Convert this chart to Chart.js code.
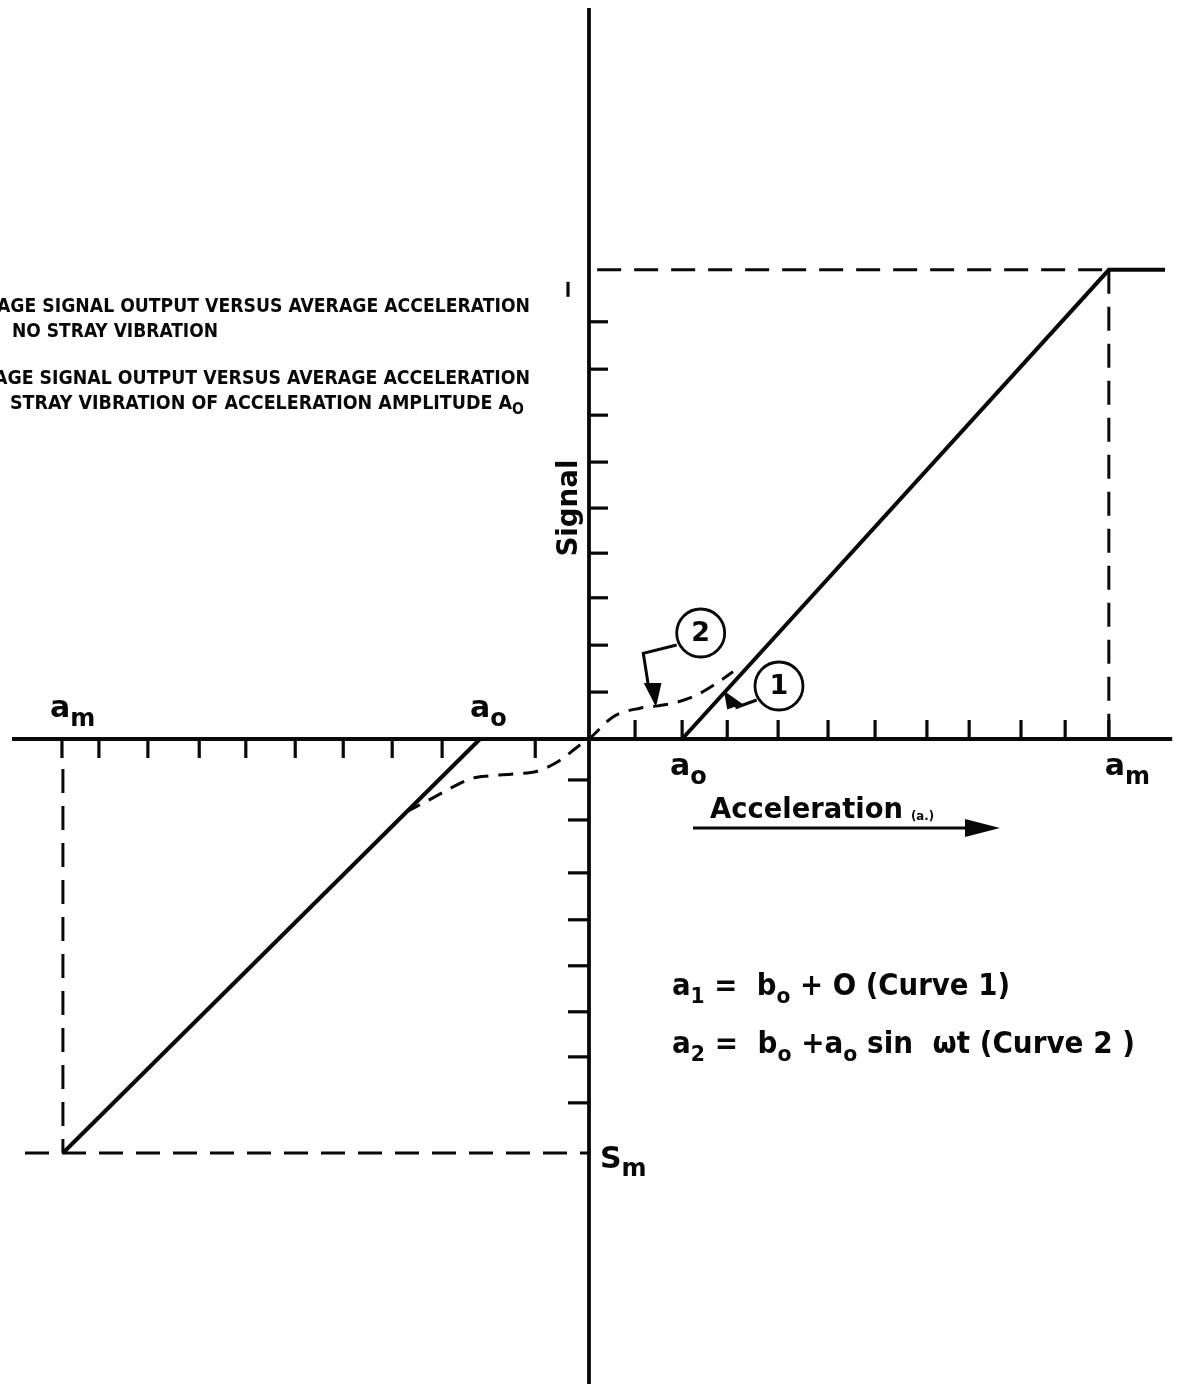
<!DOCTYPE html>
<html>
<head>
<meta charset="utf-8">
<title>Signal versus acceleration</title>
<script src="https://cdn.jsdelivr.net/npm/chart.js@4.4.1/dist/chart.umd.min.js"></script>
<style>
  html, body { margin: 0; padding: 0; background: #fff; }
  canvas { display: block; }
</style>
</head>
<body>
<canvas id="chart" width="1178" height="1384"></canvas>
<script>
// ---- values, in axis tick units (acceleration along x, signal along y) ----
const aoPos = 1.94, aoNeg = -2.27;      // dead band edges a_o
const amPos = 10.83, amNeg = -10.96;    // saturation accelerations a_m
const sMax = 10.2, sMin = -9.0;         // saturated signal levels
const flatEnd = 12.0;                   // end of the saturated plateau

// Curve 1: no stray vibration (dead band, linear, saturation)
const curve1UpperX = [aoPos, amPos, flatEnd];
const curve1UpperY = [0, sMax, sMax];
const curve1LowerX = [aoNeg, amNeg];
const curve1LowerY = [0, sMin];

// Curve 2: with stray vibration of amplitude a_o
const curve2X = [-3.80, -3.25, -2.83, -2.42, -2.06, -1.58, -1.08, -0.60, -0.19, 0.00, 0.50, 1.06, 1.44, 1.83, 2.25, 2.67, 3.00];
const curve2Y = [-1.58, -1.28, -1.04, -0.85, -0.80, -0.76, -0.70, -0.46, -0.13, 0.00, 0.48, 0.67, 0.72, 0.80, 0.96, 1.22, 1.46];

// tick marks along the axes
const xTicksRight = [0.96, 1.94, 2.88, 3.94, 4.98, 5.96, 7.04, 7.92, 9.00, 9.92, 10.83];
const xTicksLeft  = [-1.12, -3.06, -4.10, -5.12, -6.12, -7.15, -8.12, -9.19, -10.21, -10.98];
const yTicksUpper = [1.02, 2.04, 3.07, 4.04, 5.02, 6.02, 7.04, 8.04, 9.07];
const yTicksLower = [-0.89, -1.76, -2.91, -3.93, -4.93, -5.93, -6.91, -7.91];

// axis labels
const xLabelMain  = ['a', 'a', 'a', 'a'];
const xLabelSub   = ['m', 'o', 'o', 'm'];
const xLabelValue = [amNeg, aoNeg, aoPos, amPos];
const yLabelMain = 'S', yLabelSub = 'm';
const xTitle = 'Acceleration', xTitleUnit = '(a.)';
const yTitle = 'Signal';
const curveTags = ['1', '2'];

const legendLines = [
  'AGE SIGNAL OUTPUT VERSUS AVERAGE ACCELERATION',
  'NO STRAY VIBRATION',
  'AGE SIGNAL OUTPUT VERSUS AVERAGE ACCELERATION',
  'STRAY VIBRATION OF ACCELERATION AMPLITUDE A'
];
const legendSub = 'O';

const eq1 = [['a'], ['1', 1], [' =  b'], ['o', 1], [' + O (Curve 1)']];
const eq2 = [['a'], ['2', 1], [' =  b'], ['o', 1], [' +a'], ['o', 1], [' sin  \u03c9t (Curve 2 )']];

// ---- drawing ----
const INK = '#080808';
const FONT = '"DejaVu Sans", "Liberation Sans", sans-serif';
const CFONT = '"DejaVu Sans Condensed", "Liberation Sans Narrow", "DejaVu Sans", sans-serif';

const pts = (xs, ys) => xs.map((x, i) => ({ x, y: ys[i] }));

function richText(ctx, segs, x, baseline, size, subSize, subDrop, weight, family, targetW) {
  const parts = segs.map(s => {
    const font = `${weight} ${s[1] ? subSize : size}px ${family}`;
    ctx.font = font;
    return { t: s[0], sub: !!s[1], font, w: ctx.measureText(s[0]).width };
  });
  const total = parts.reduce((a, p) => a + p.w, 0);
  const k = targetW ? targetW / total : 1;
  ctx.save();
  ctx.translate(x, baseline);
  ctx.scale(k, 1);
  ctx.textBaseline = 'alphabetic';
  ctx.textAlign = 'left';
  let cx = 0;
  parts.forEach(p => {
    ctx.font = p.font;
    ctx.fillText(p.t, cx, p.sub ? subDrop : 0);
    cx += p.w;
  });
  ctx.restore();
}

function seg(ctx, x1, y1, x2, y2) {
  ctx.beginPath(); ctx.moveTo(x1, y1); ctx.lineTo(x2, y2); ctx.stroke();
}

const paperPlugin = {
  id: 'paper',
  beforeDraw(chart) {
    const { ctx } = chart;
    ctx.save();
    ctx.fillStyle = '#fff';
    ctx.fillRect(0, 0, chart.width, chart.height);
    ctx.restore();
  }
};

const axesPlugin = {
  id: 'crossAxes',
  beforeDatasetsDraw(chart) {
    const { ctx, scales: { x, y } } = chart;
    const X = v => x.getPixelForValue(v), Y = v => y.getPixelForValue(v);
    ctx.save();
    ctx.strokeStyle = INK;
    ctx.lineCap = 'butt';
    ctx.lineWidth = 3.8;
    seg(ctx, X(-12.02), Y(0), X(12.15), Y(0));
    seg(ctx, X(0), Y(15.89), X(0), chart.height);
    ctx.lineWidth = 3.2;
    xTicksRight.forEach(v => seg(ctx, X(v), Y(0), X(v), Y(0) - 19));
    xTicksLeft.forEach(v => seg(ctx, X(v), Y(0), X(v), Y(0) + 19));
    yTicksUpper.forEach(v => seg(ctx, X(0), Y(v), X(0) + 19, Y(v)));
    yTicksLower.forEach(v => seg(ctx, X(0), Y(v), X(0) - 21, Y(v)));
    // short mark beside the upper saturation level
    seg(ctx, X(0) - 21, Y(sMax) + 12, X(0) - 21, Y(sMax) + 27);
    ctx.restore();
  }
};

const notesPlugin = {
  id: 'notes',
  afterDatasetsDraw(chart) {
    const { ctx, scales: { x, y } } = chart;
    const X = v => x.getPixelForValue(v), Y = v => y.getPixelForValue(v);
    ctx.save();
    ctx.fillStyle = INK;
    ctx.strokeStyle = INK;

    // a_m / a_o labels on the acceleration axis
    xLabelValue.forEach((v, i) => {
      const above = v < 0;
      const dx = i === 0 ? -13 : i === 1 ? -10 : i === 2 ? -12 : -4;
      const base = above ? Y(0) - 22 : Y(0) + 36;
      richText(ctx, [[xLabelMain[i]], [xLabelSub[i], 1]], X(v) + dx, base, 30, 24, 9, 'bold', FONT);
    });
    // S_m on the signal axis
    richText(ctx, [[yLabelMain], [yLabelSub, 1]], X(0) + 11, Y(sMin) + 15, 30, 24, 8, 'bold', FONT);

    // acceleration title with arrow
    richText(ctx, [[xTitle]], X(0) + 121, Y(0) + 79, 28, 28, 0, 'bold', FONT, 193);
    richText(ctx, [[xTitleUnit]], X(0) + 322, Y(0) + 81, 13, 13, 0, 'bold', FONT, 23);
    const ay = Y(0) + 89;
    ctx.lineWidth = 3.2;
    seg(ctx, X(0) + 104, ay, X(0) + 380, ay);
    ctx.beginPath();
    ctx.moveTo(X(0) + 411, ay);
    ctx.lineTo(X(0) + 376, ay - 9);
    ctx.lineTo(X(0) + 376, ay + 9);
    ctx.closePath();
    ctx.fill();

    // signal title, vertical
    ctx.save();
    ctx.translate(X(0) - 12, Y(5.02));
    ctx.rotate(-Math.PI / 2);
    ctx.font = `bold 28px ${FONT}`;
    const sw = ctx.measureText(yTitle).width;
    ctx.scale(97 / sw, 1);
    ctx.textAlign = 'center';
    ctx.textBaseline = 'alphabetic';
    ctx.fillText(yTitle, 0, 0);
    ctx.restore();

    // circled curve tags with leaders
    ctx.lineWidth = 2.8;
    const c1 = [X(3.958), Y(1.152)], c2 = [X(2.327), Y(2.304)];
    [c1, c2].forEach((c, i) => {
      ctx.beginPath(); ctx.arc(c[0], c[1], 24, 0, Math.PI * 2); ctx.stroke();
      ctx.font = `bold 27px ${FONT}`;
      ctx.textAlign = 'center'; ctx.textBaseline = 'middle';
      ctx.fillText(curveTags[i], c[0], c[1] + 1);
    });
    // leader to curve 2
    ctx.lineWidth = 3;
    ctx.beginPath();
    ctx.moveTo(X(1.827), Y(2.043));
    ctx.lineTo(X(1.131), Y(1.863));
    ctx.lineTo(X(1.235), Y(1.174));
    ctx.stroke();
    ctx.beginPath();
    ctx.moveTo(X(1.396), Y(0.696));
    ctx.lineTo(X(1.140), Y(1.22));
    ctx.lineTo(X(1.510), Y(1.22));
    ctx.closePath(); ctx.fill();
    // leader to curve 1
    ctx.beginPath();
    ctx.moveTo(X(3.494), Y(0.848));
    ctx.lineTo(X(3.05), Y(0.680));
    ctx.stroke();
    ctx.beginPath();
    ctx.moveTo(X(2.81), Y(1.05));
    ctx.lineTo(X(2.88), Y(0.640));
    ctx.lineTo(X(3.20), Y(0.760));
    ctx.closePath(); ctx.fill();

    // legend text block (left)
    richText(ctx, [[legendLines[0]]], -3, 312, 20, 20, 0, 'bold', CFONT, 533);
    richText(ctx, [[legendLines[1]]], 12, 337, 20, 20, 0, 'bold', CFONT, 206);
    richText(ctx, [[legendLines[2]]], -6, 384, 20, 20, 0, 'bold', CFONT, 536);
    richText(ctx, [[legendLines[3]], [legendSub, 1]], 10, 409, 20, 16, 5, 'bold', CFONT, 514);

    // equations
    richText(ctx, eq1, X(0) + 83, Y(0) + 256, 30, 22, 8, 'bold', FONT, 338);
    richText(ctx, eq2, X(0) + 83, Y(0) + 314, 30, 22, 8, 'bold', FONT, 463);

    ctx.restore();
  }
};

const solid = { borderColor: INK, borderWidth: 4, showLine: true, pointRadius: 0, fill: false };
const guide = { borderColor: INK, borderWidth: 3, showLine: true, pointRadius: 0, fill: false, borderDash: [24, 13] };

new Chart(document.getElementById('chart'), {
  type: 'scatter',
  data: {
    datasets: [
      { ...guide, data: pts([0.17, amPos], [sMax, sMax]) },
      { ...guide, data: pts([amPos, amPos], [sMax, 0]) },
      { ...guide, data: pts([-11.75, 0], [sMin, sMin]) },
      { ...guide, data: pts([amNeg, amNeg], [-0.65, sMin]) },
      { ...solid, data: pts(curve1UpperX, curve1UpperY) },
      { ...solid, data: pts(curve1LowerX, curve1LowerY) },
      { ...solid, borderWidth: 3, borderDash: [15, 10], cubicInterpolationMode: 'monotone', data: pts(curve2X, curve2Y) }
    ]
  },
  options: {
    responsive: false,
    animation: false,
    events: [],
    layout: { padding: 0 },
    plugins: { legend: { display: false }, tooltip: { enabled: false } },
    scales: {
      x: { type: 'linear', min: -12.2708, max: 12.2708, display: false },
      y: { type: 'linear', min: -14.0217, max: 16.0652, display: false }
    }
  },
  plugins: [paperPlugin, axesPlugin, notesPlugin]
});
</script>
</body>
</html>
